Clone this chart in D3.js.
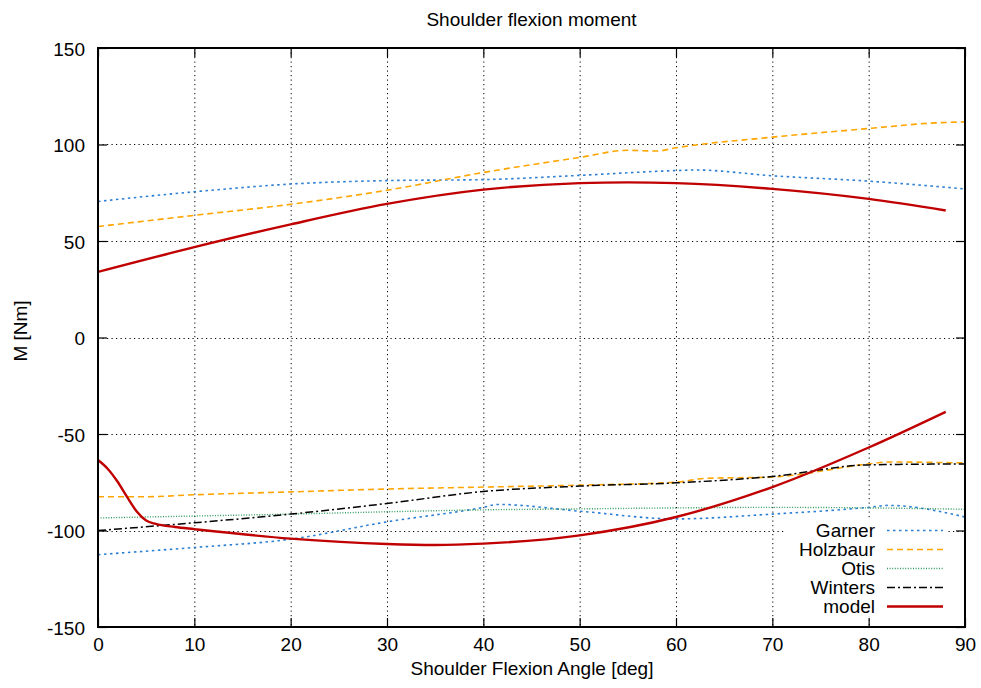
<!DOCTYPE html>
<html>
<head>
<meta charset="UTF-8" />
<title>Shoulder flexion moment</title>
<style>
  body { margin: 0; background: #fff; }
  text { font-family: "Liberation Sans", Arial, sans-serif; }
</style>
</head>
<body>
<script src="https://d3js.org/d3.v7.min.js"></script>
<script>
// data: [angle, moment]
var garnerUp = [[0,70.5],[10,75.5],[20,79.5],[30,81.3],[40,81.8],[50,84],[60,86.5],[62,86.8],[70,83.8],[80,81],[90,77]];
var garnerLo = [[0,-112.5],[10,-108.8],[20,-104.5],[30,-95.5],[40,-88],[41.5,-86.5],[50,-90],[60,-94],[70,-91.5],[80,-88],[82,-87],[90,-93]];
var holzUp = [[0,57.5],[10,63.3],[20,69],[30,76.3],[40,85.5],[50,93.3],[55,97],[58,96.6],[60,98.3],[70,103.8],[80,108.3],[87,111.2],[90,111.7]];
var holzLo = [[0,-82.5],[5,-82.5],[10,-81.5],[20,-80],[30,-78.5],[40,-77.5],[50,-76.5],[60,-75],[63,-73],[70,-72.3],[80,-65.5],[82,-64.5],[90,-65]];
var otis = [[0,-93.5],[10,-92.5],[20,-91.5],[30,-90.3],[40,-89.3],[50,-88.8],[60,-88.3],[70,-88],[80,-88.3],[90,-89]];
var winters = [[0,-100],[10,-96],[20,-91.5],[30,-86],[40,-79.8],[50,-77],[60,-75.3],[70,-72],[80,-66],[90,-65.5]];
var modelUp = [[0,34],[10,46.8],[20,58.6],[30,69.2],[40,76.6],[50,80],[55,80.4],[60,80],[70,77],[80,71.8],[88,65.8]];
var modelLo = [[0,-63.5],[1,-68],[2,-74.5],[3,-82.5],[4,-90],[5,-94.8],[6,-96.6],[8,-98.2],[10,-99.3],[20,-104.2],[30,-107],[35,-107.5],[40,-106.8],[50,-102.5],[60,-93],[70,-77.5],[80,-57],[88,-38.5]];

var xTicks = [0,10,20,30,40,50,60,70,80,90];
var yTicks = [-150,-100,-50,0,50,100,150];

var series = [
  { name: "Garner", color: "#2a7fd4", dash: "2.5,3.5", width: 1.6, parts: [garnerUp, garnerLo] },
  { name: "Holzbaur", color: "#ffa500", dash: "6,4", width: 1.6, parts: [holzUp, holzLo] },
  { name: "Otis", color: "#2e9a5a", dash: "1,1.6", width: 1.4, parts: [otis] },
  { name: "Winters", color: "#000", dash: "8,3,2,3", width: 1.5, parts: [winters] },
  { name: "model", color: "#c00000", dash: null, width: 2.4, parts: [modelUp, modelLo] }
];

var W = 981, H = 688;
var m = { left: 98, right: 16, top: 48, bottom: 61 };
var fs = 19;

var svg = d3.select("body").append("svg")
  .attr("width", W).attr("height", H);

var x = d3.scaleLinear().domain([0, 90]).range([m.left, W - m.right]);
var y = d3.scaleLinear().domain([-150, 150]).range([H - m.bottom, m.top]);

// grid
var grid = svg.append("g").attr("stroke", "#000").attr("stroke-width", 1).attr("stroke-dasharray", "1.2,3.3");
grid.selectAll(".gx").data(xTicks.slice(1, -1)).join("line")
  .attr("x1", function(d) { return x(d) + 0.5; }).attr("x2", function(d) { return x(d) + 0.5; })
  .attr("y1", y(150)).attr("y2", y(-150));
grid.selectAll(".gy").data(yTicks.slice(1, -1)).join("line")
  .attr("y1", function(d) { return Math.round(y(d)) + 0.5; }).attr("y2", function(d) { return Math.round(y(d)) + 0.5; })
  .attr("x1", x(0)).attr("x2", x(90));

// axes, ticks on all four sides pointing inward
var tick = 9;
var plain = function(d) { return String(d); };
var bottom = svg.append("g").attr("transform", "translate(0," + y(-150) + ")")
  .call(d3.axisBottom(x).tickValues(xTicks).tickSize(-tick).tickFormat(plain));
bottom.selectAll(".tick text").attr("y", 24).attr("dy", null);
svg.append("g").attr("transform", "translate(0," + y(150) + ")")
  .call(d3.axisTop(x).tickValues(xTicks).tickSize(-tick).tickFormat(""));
var left = svg.append("g").attr("transform", "translate(" + x(0) + ",0)")
  .call(d3.axisLeft(y).tickValues(yTicks).tickSize(-tick).tickFormat(plain));
left.selectAll(".tick text").attr("x", -13).attr("dy", null).attr("y", 7);
svg.append("g").attr("transform", "translate(" + x(90) + ",0)")
  .call(d3.axisRight(y).tickValues(yTicks).tickSize(-tick).tickFormat(""));

svg.selectAll(".domain").remove();
svg.selectAll(".tick line").attr("stroke", "#000").attr("stroke-width", 1.2);
svg.selectAll(".tick text").attr("font-size", fs).attr("fill", "#000")
  .attr("font-family", "Liberation Sans, Arial, sans-serif");

// lines
var line = d3.line()
  .x(function(d) { return x(d[0]); })
  .y(function(d) { return y(d[1]); })
  .curve(d3.curveMonotoneX);

var plot = svg.append("g");
series.forEach(function(s) {
  s.parts.forEach(function(p) {
    plot.append("path")
      .attr("d", line(p))
      .attr("fill", "none")
      .attr("stroke", s.color)
      .attr("stroke-width", s.width)
      .attr("stroke-dasharray", s.dash);
  });
});

// key with opaque background
var key = svg.append("g");
key.append("rect")
  .attr("x", 784).attr("y", 519).attr("width", 164).attr("height", 97)
  .attr("fill", "#fff");
series.forEach(function(s, i) {
  var ky = 530 + i * 19;
  key.append("text")
    .attr("x", 875).attr("y", ky).attr("dy", "0.35em")
    .attr("text-anchor", "end").attr("font-size", fs)
    .text(s.name);
  key.append("line")
    .attr("x1", 887).attr("x2", 943).attr("y1", ky + 0.5).attr("y2", ky + 0.5)
    .attr("stroke", s.color).attr("stroke-width", s.width)
    .attr("stroke-dasharray", s.dash);
});

// frame
svg.append("rect")
  .attr("x", x(0)).attr("y", y(150))
  .attr("width", x(90) - x(0)).attr("height", y(-150) - y(150))
  .attr("fill", "none").attr("stroke", "#000").attr("stroke-width", 2);

// titles
svg.append("text").attr("x", 531.5).attr("y", 26).attr("text-anchor", "middle")
  .attr("font-size", fs).text("Shoulder flexion moment");
svg.append("text").attr("x", 532).attr("y", 675).attr("text-anchor", "middle")
  .attr("font-size", fs).text("Shoulder Flexion Angle [deg]");
svg.append("text").attr("transform", "translate(27,331) rotate(-90)")
  .attr("text-anchor", "middle").attr("font-size", fs).text("M [Nm]");
</script>
</body>
</html>
